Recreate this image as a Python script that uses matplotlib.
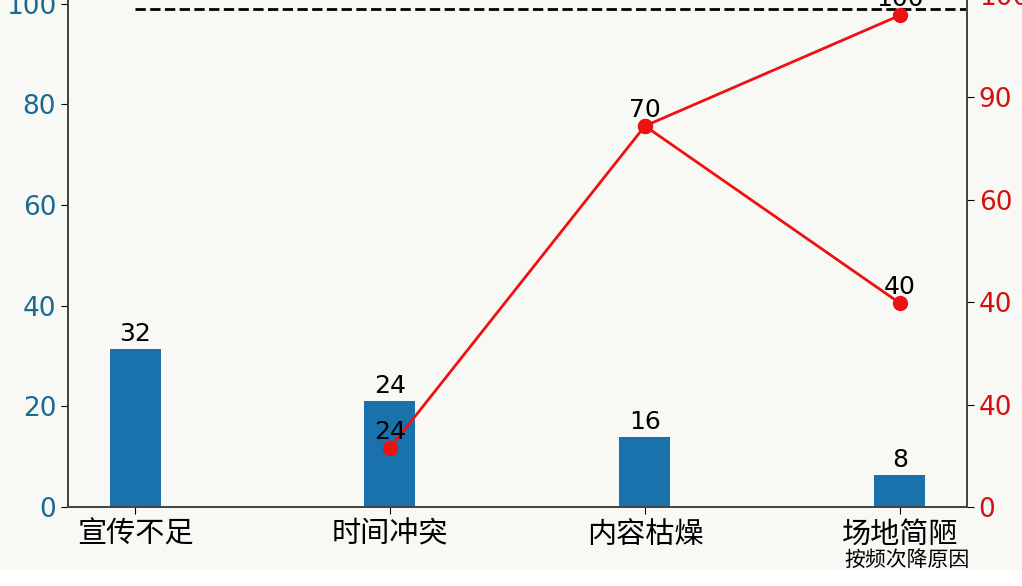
import numpy as np
import matplotlib.pyplot as plt
from matplotlib.patches import Rectangle

plt.rcParams['font.family'] = ['DejaVu Sans', 'Noto Sans CJK SC']

categories = ['宣传不足', '时间冲突', '内容枯燥', '场地简陋']
bar_heights = [31.4, 21.1, 13.9, 6.4]
bar_labels = ['32', '24', '16', '8']

# 折线 (右轴)
line_x = [1, 2, 3]
line_y = [11.5, 74.4, 96.0]
line_x2 = [2, 3]
line_y2 = [74.4, 39.8]
line_labels = ['24', '70', '100']
line_labels2 = ['70', '40']

right_ticks = [0, 20, 40, 60, 80, 100]
right_ticklabels = ['0', '40', '40', '60', '90', '100']
left_ticks = [0, 20, 40, 60, 80, 100]

bg = '#f8f8f4'
fig = plt.figure(figsize=(10.22, 5.86), dpi=100, facecolor=bg)
ax = fig.add_axes([0.0665, 0.1348, 0.8796, 0.8993])
ax.set_facecolor(bg)

x = np.arange(len(categories))
bars = ax.bar(x, bar_heights, width=0.2, color='#1a72ad')
for b, t in zip(bars, bar_labels):
    ax.annotate(t, (b.get_x() + b.get_width() / 2, b.get_height()),
                xytext=(0, 2), textcoords='offset points',
                ha='center', va='bottom', fontsize=18)

ax.set_ylim(0, 104.7)
ax.set_yticks(left_ticks)
ax.tick_params(axis='y', labelsize=19, labelcolor='#1b6a94', length=5)
ax.set_xticks(x)
ax.set_xticklabels(categories, family=['Noto Sans CJK SC', 'DejaVu Sans'], fontsize=21)
ax.tick_params(axis='x', length=5, pad=4)
ax.hlines(98.9, 0, 10, colors='black', linestyles='--', linewidth=2)
ax.set_xlim(-0.263, 3.263)

ax2 = ax.twinx()
ax2.set_ylim(0, 102.9)
ax2.plot(line_x, line_y, color='#ee1111', linewidth=2, marker='o', markersize=10)
ax2.plot(line_x2, line_y2, color='#ee1111', linewidth=2, marker='o', markersize=10)
for xi, yi, t in zip(line_x, line_y, line_labels):
    ax2.annotate(t, (xi, yi), xytext=(0, 3), textcoords='offset points',
                 ha='center', va='bottom', fontsize=18)
ax2.annotate(line_labels2[1], (line_x2[1], line_y2[1]), xytext=(0, 3),
             textcoords='offset points', ha='center', va='bottom', fontsize=18)
ax2.set_yticks(right_ticks)
ax2.set_yticklabels(right_ticklabels)
ax2.tick_params(axis='y', labelsize=19, labelcolor='#d41010', length=5)

for a in (ax, ax2):
    a.spines['top'].set_visible(False)
    for s in ['left', 'right', 'bottom']:
        a.spines[s].set_color('#444444')
        a.spines[s].set_linewidth(1.3)

fig.text(907 / 1022, 1 - 560 / 586, '按频次降原因', ha='center', va='center',
         fontsize=15, family=['Noto Sans CJK SC', 'DejaVu Sans'])
fig.patches.append(Rectangle((0, 0), 1, 16 / 586, transform=fig.transFigure,
                             facecolor='white', edgecolor='none', zorder=10))

plt.savefig('out.png', dpi=100, facecolor=bg)
